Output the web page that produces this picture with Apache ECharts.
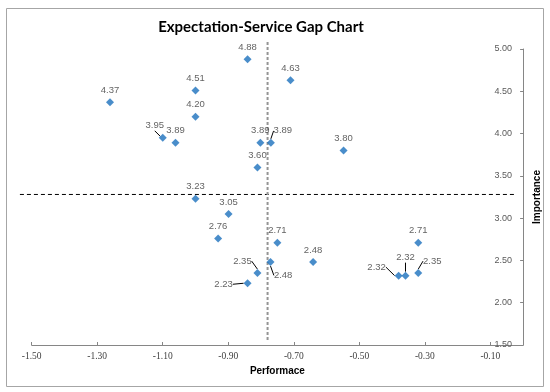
<!DOCTYPE html>
<html><head><meta charset="utf-8">
<script src="https://cdn.jsdelivr.net/npm/echarts@6/dist/echarts.min.js"></script>
<style>html,body{margin:0;padding:0;background:#fff}#c{width:550px;height:392px}</style>
</head><body><div id="c"></div>
<script>
// ---- data ----
const performance = [-1.261, -0.841, -1.00, -1.00, -1.10, -1.061, -0.71, -0.802, -0.770, -0.811, -0.548, -1.00, -0.899, -0.931, -0.75, -0.771, -0.641, -0.811, -0.841, -0.32, -0.38, -0.359, -0.32];
const importance  = [4.37, 4.88, 4.51, 4.20, 3.95, 3.89, 4.63, 3.89, 3.89, 3.60, 3.80, 3.23, 3.05, 2.76, 2.71, 2.48, 2.48, 2.35, 2.23, 2.71, 2.32, 2.32, 2.35];
const xMin = -1.5, xMax = 0, xStep = 0.2;
const yMin = 1.5, yMax = 5, yStep = 0.5;
const perfDivider = -0.78;              // vertical dashed line (x)
const impDivider = 3.28;                // horizontal dashed line (y)
const hLineSpan = [-1.536, -0.027];     // x extent of horizontal line
const vLineSpan = [1.56, 5.106];        // y extent of vertical line
const titleText = 'Expectation-Service Gap Chart';
const xName = 'Performace', yName = 'Importance';

// label nudges (pixels) for labels that carry a leader line
const labelShift = {4:[-8,0], 8:[12,0], 15:[12.6,25.3], 17:[-15,0], 18:[-24,13], 20:[-22,3.4], 21:[0,-6], 22:[14,0]};

const chart = echarts.init(document.getElementById('c'), null, {renderer:'canvas'});
const axisGray = '#868686';
const fmt = v => Number(v).toFixed(2);

// divider segments: [x1, y1, x2, y2]
const dividers = [
  [hLineSpan[0], impDivider, hLineSpan[1], impDivider],
  [perfDivider, vLineSpan[0], perfDivider, vLineSpan[1]]
];
const dividerStyles = [
  {stroke:'#000', lineWidth:1, lineDash:[4,3]},
  {stroke:'#959595', lineWidth:2, lineDash:[3,2]}
];

chart.setOption({
  animation: false,
  grid: {left: 31.7, right: 26, top: 49, bottom: 47, containLabel: false},
  graphic: [
    {type:'rect', shape:{x:6.5, y:8.5, width:537, height:378}, style:{fill:'none', stroke:'#a6a6a6', lineWidth:1}, silent:true, z:-1},
    {type:'text', x:261, y:27, style:{text:titleText, fontFamily:'Lato, sans-serif', fontWeight:'bold', fontSize:15, fill:'#000', align:'center', verticalAlign:'middle'}, silent:true}
  ],
  xAxis: {
    type:'value', min:xMin, max:xMax, interval:xStep, position:'bottom',
    name:xName, nameLocation:'middle', nameGap:19,
    nameTextStyle:{fontWeight:'bold', fontSize:10, color:'#000', fontFamily:'Liberation Sans'},
    axisLine:{onZero:false, lineStyle:{color:axisGray}},
    axisTick:{inside:true, length:3, lineStyle:{color:axisGray}},
    axisLabel:{formatter:fmt, showMaxLabel:false, fontFamily:'Liberation Serif', fontSize:9.5, color:'#404040', margin:6},
    splitLine:{show:false}
  },
  yAxis: {
    type:'value', min:yMin, max:yMax, interval:yStep, position:'right',
    name:yName, nameLocation:'middle', nameRotate:90, nameGap:8,
    nameTextStyle:{fontWeight:'bold', fontSize:10, color:'#000', fontFamily:'Liberation Sans'},
    axisLine:{show:true, onZero:false, lineStyle:{color:axisGray}},
    axisTick:{show:true, inside:true, length:3, lineStyle:{color:axisGray}},
    axisLabel:{inside:true, margin:11, formatter:fmt, fontFamily:'Liberation Sans', fontSize:9, color:'#595959'},
    splitLine:{show:false}
  },
  series: [
    {type:'custom', data:dividers, clip:false, silent:true, z:1,
     encode:{x:[0,2], y:[1,3]},
     renderItem:(params, api) => {
       const p1 = api.coord([api.value(0), api.value(1)]);
       const p2 = api.coord([api.value(2), api.value(3)]);
       return {type:'line', shape:{x1:p1[0], y1:p1[1], x2:p2[0], y2:p2[1]}, style:Object.assign({fill:null}, dividerStyles[params.dataIndex])};
     }},
    {type:'scatter', symbol:'diamond', symbolSize:8, z:3,
     itemStyle:{color:'#1b70bd'},
     data: performance.map((x,i) => ({value:[x, importance[i]], labelLine:{show: labelShift[i] !== undefined}})),
     label:{show:true, position:'top', distance:3, formatter:p => fmt(p.value[1]), fontSize:9.5, color:'#3a3a3a', fontFamily:'Liberation Sans'},
     labelLayout: p => { const s = labelShift[p.dataIndex]; return s ? {dx:s[0], dy:s[1]} : {}; },
     labelLine:{show:false, lineStyle:{color:'#000', width:1}}
    }
  ]
});
</script></body></html>
